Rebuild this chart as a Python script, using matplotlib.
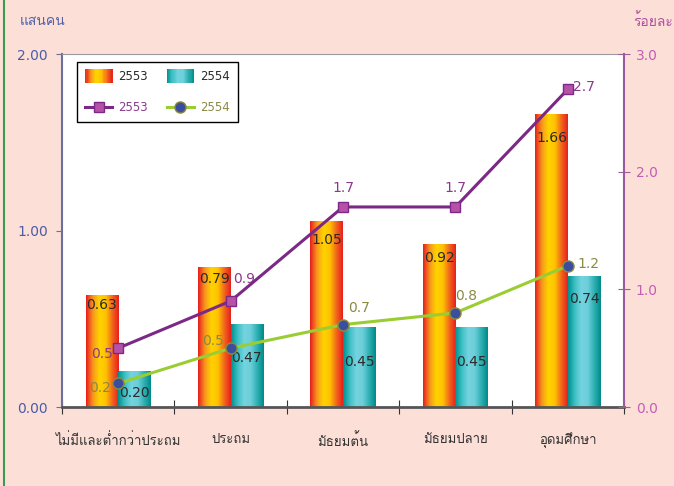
import numpy as np
import matplotlib
matplotlib.use("Agg")
import matplotlib.pyplot as plt
from matplotlib import font_manager
from matplotlib.ft2font import FT2Font
from matplotlib.colors import LinearSegmentedColormap
from matplotlib.patches import Rectangle
from matplotlib.lines import Line2D
from matplotlib.legend_handler import HandlerBase

# ข้อมูล
categories = ['ไม่มีและต่ำกว่าประถม', 'ประถม', 'มัธยมต้น', 'มัธยมปลาย', 'อุดมศึกษา']
people_2553 = [0.63, 0.79, 1.05, 0.92, 1.66]   # แสนคน
people_2554 = [0.20, 0.47, 0.45, 0.45, 0.74]
pct_2553 = [0.5, 0.9, 1.7, 1.7, 2.7]          # ร้อยละ
pct_2554 = [0.2, 0.5, 0.7, 0.8, 1.2]
series = ['2553', '2554']

# find some installed font that has Thai glyphs
thai = None
for f in font_manager.fontManager.ttflist:
    try:
        if 0x0E01 in FT2Font(f.fname).get_charmap() and f.weight in (400, 'normal', 'regular'):
            thai = f.name
            break
    except Exception:
        pass
plt.rcParams['font.family'] = ['DejaVu Sans'] + ([thai] if thai else [])

bg = '#FCE0D8'
orange = LinearSegmentedColormap.from_list('o', ['#E8201E', '#F7941D', '#FFD200', '#FFC400', '#F26A1B', '#E8201E'])
teal = LinearSegmentedColormap.from_list('t', ['#00908F', '#3DBFC4', '#74D3DE', '#6CCFDA', '#2FB0B3', '#008B8A'])

fig = plt.figure(figsize=(6.74, 4.86), dpi=100, facecolor=bg)
ax = fig.add_axes([62/674, 1-407/486, 562/674, 353/486])
fig.add_artist(Line2D([4/674, 4/674], [0, 1], color='#3C9A50', lw=1.5))

x = np.arange(len(categories))
w = 0.29
b1 = ax.bar(x - w/2, people_2553, w, color='none', lw=0)
b2 = ax.bar(x + w/2, people_2554, w, color='none', lw=0)

grad = np.linspace(0, 1, 64).reshape(1, -1)
for bars, cm in ((b1, orange), (b2, teal)):
    for r in bars:
        ax.imshow(grad, cmap=cm, aspect='auto', zorder=2,
                  extent=[r.get_x(), r.get_x() + r.get_width(), 0, r.get_height()])

ax.set_xlim(-0.5, len(categories) - 0.5)
ax.set_ylim(0, 2)
ax.set_xticks(np.arange(-0.5, len(categories)), [])
ax.set_xticks(x, categories, minor=True)
ax.tick_params(axis='x', which='major', direction='inout', length=10, color='#333333')
ax.tick_params(axis='x', which='minor', length=0, pad=19, labelsize=9.5, labelcolor='#333333')
ax.set_yticks([0, 1, 2], ['0.00', '1.00', '2.00'])
ax.tick_params(axis='y', length=4, color='#6A6F9E', labelcolor='#4B5BA6', labelsize=10, pad=6)
ax.spines['left'].set_color('#6A6F9E')
ax.spines['left'].set_linewidth(1.5)
ax.spines['bottom'].set_color('#555555')
ax.spines['bottom'].set_linewidth(2)
ax.spines['top'].set_color('#999999')
ax.spines['right'].set_visible(False)

# ป้ายค่าแท่ง
dy1 = [-6.5, -8, -13, -9.5, -17]
dy2 = [-15, -24.5, -25, -25, -16]
for r, v, d in zip(b1, people_2553, dy1):
    ax.annotate(f'{v:.2f}', (r.get_x() + r.get_width()/2, v), xytext=(0, d), textcoords='offset points',
                ha='center', va='center', fontsize=10, color='#2A2A2A', zorder=4)
for r, v, d in zip(b2, people_2554, dy2):
    ax.annotate(f'{v:.2f}', (r.get_x() + r.get_width()/2, v), xytext=(0, d), textcoords='offset points',
                ha='center', va='center', fontsize=10, color='#2A2A2A', zorder=4)

ax2 = ax.twinx()
ax2.set_ylim(0, 3)
ax2.set_yticks([0, 1, 2, 3], ['0.0', '1.0', '2.0', '3.0'])
ax2.tick_params(axis='y', direction='inout', length=9, color='#A05AA0', labelcolor='#C45DB4', labelsize=10, pad=4)
ax2.spines['right'].set_color('#9B5A9B')
ax2.spines['right'].set_linewidth(1.5)
for s in ('left', 'top', 'bottom'):
    ax2.spines[s].set_visible(False)

l1, = ax2.plot(x, pct_2553, color='#7B2886', lw=2.2, marker='s', ms=7, mfc='#B552A8', mec='#7B2886', zorder=5)
l2, = ax2.plot(x, pct_2554, color='#9ACD32', lw=2.2, marker='o', ms=8, mfc='#3B4D9E', mec='#8C8C3C', zorder=5)

off1 = [(-4, -4, 'right'), (2, 16, 'left'), (0, 14, 'center'), (0, 14, 'center'), (4, 2, 'left')]
off2 = [(-5, -3.5, 'right'), (-5, 5, 'right'), (4, 12, 'left'), (0, 12, 'left'), (7, 1, 'left')]
for xi, v, (dx, dy, ha) in zip(x, pct_2553, off1):
    ax2.annotate(f'{v}', (xi, v), xytext=(dx, dy), textcoords='offset points',
                 ha=ha, va='center', fontsize=10, color='#8B3A8B')
for xi, v, (dx, dy, ha) in zip(x, pct_2554, off2):
    ax2.annotate(f'{v}', (xi, v), xytext=(dx, dy), textcoords='offset points',
                 ha=ha, va='center', fontsize=10, color='#8A8A45')


class GradHandler(HandlerBase):
    def __init__(self, cmap):
        super().__init__()
        self.cmap = cmap

    def create_artists(self, legend, orig_handle, xdescent, ydescent, width, height, fontsize, trans):
        n = 24
        return [Rectangle((-xdescent + i*width/n, -ydescent - 2), width/n + 0.3, height + 4,
                          color=self.cmap((i + 0.5)/n), lw=0, transform=trans) for i in range(n)]


p1 = Rectangle((0, 0), 1, 1)
p2 = Rectangle((0, 0), 1, 1)
leg = ax2.legend([p1, l1, p2, l2], [series[0], series[0], series[1], series[1]], ncol=2,
                 loc='upper left', bbox_to_anchor=(15/562, 1 - 8/353), borderaxespad=0,
                 fancybox=False, edgecolor='black', framealpha=1, fontsize=8.5,
                 handlelength=2.3, handletextpad=0.5, columnspacing=1.6, labelspacing=1.5,
                 borderpad=0.7, handler_map={p1: GradHandler(orange), p2: GradHandler(teal)})
leg.get_frame().set_linewidth(1)
for t, c in zip(leg.get_texts(), ['#2A2A2A', '#8B3A8B', '#2A2A2A', '#8A8A45']):
    t.set_color(c)

fig.text(20/674, 1 - 21/486, 'แสนคน', color='#5060A8', fontsize=10, va='center', ha='left')
fig.text(633/674, 1 - 21/486, 'ร้อยละ', color='#B050A0', fontsize=10, va='center', ha='left')

fig.savefig('out.png', dpi=100, facecolor=bg)
